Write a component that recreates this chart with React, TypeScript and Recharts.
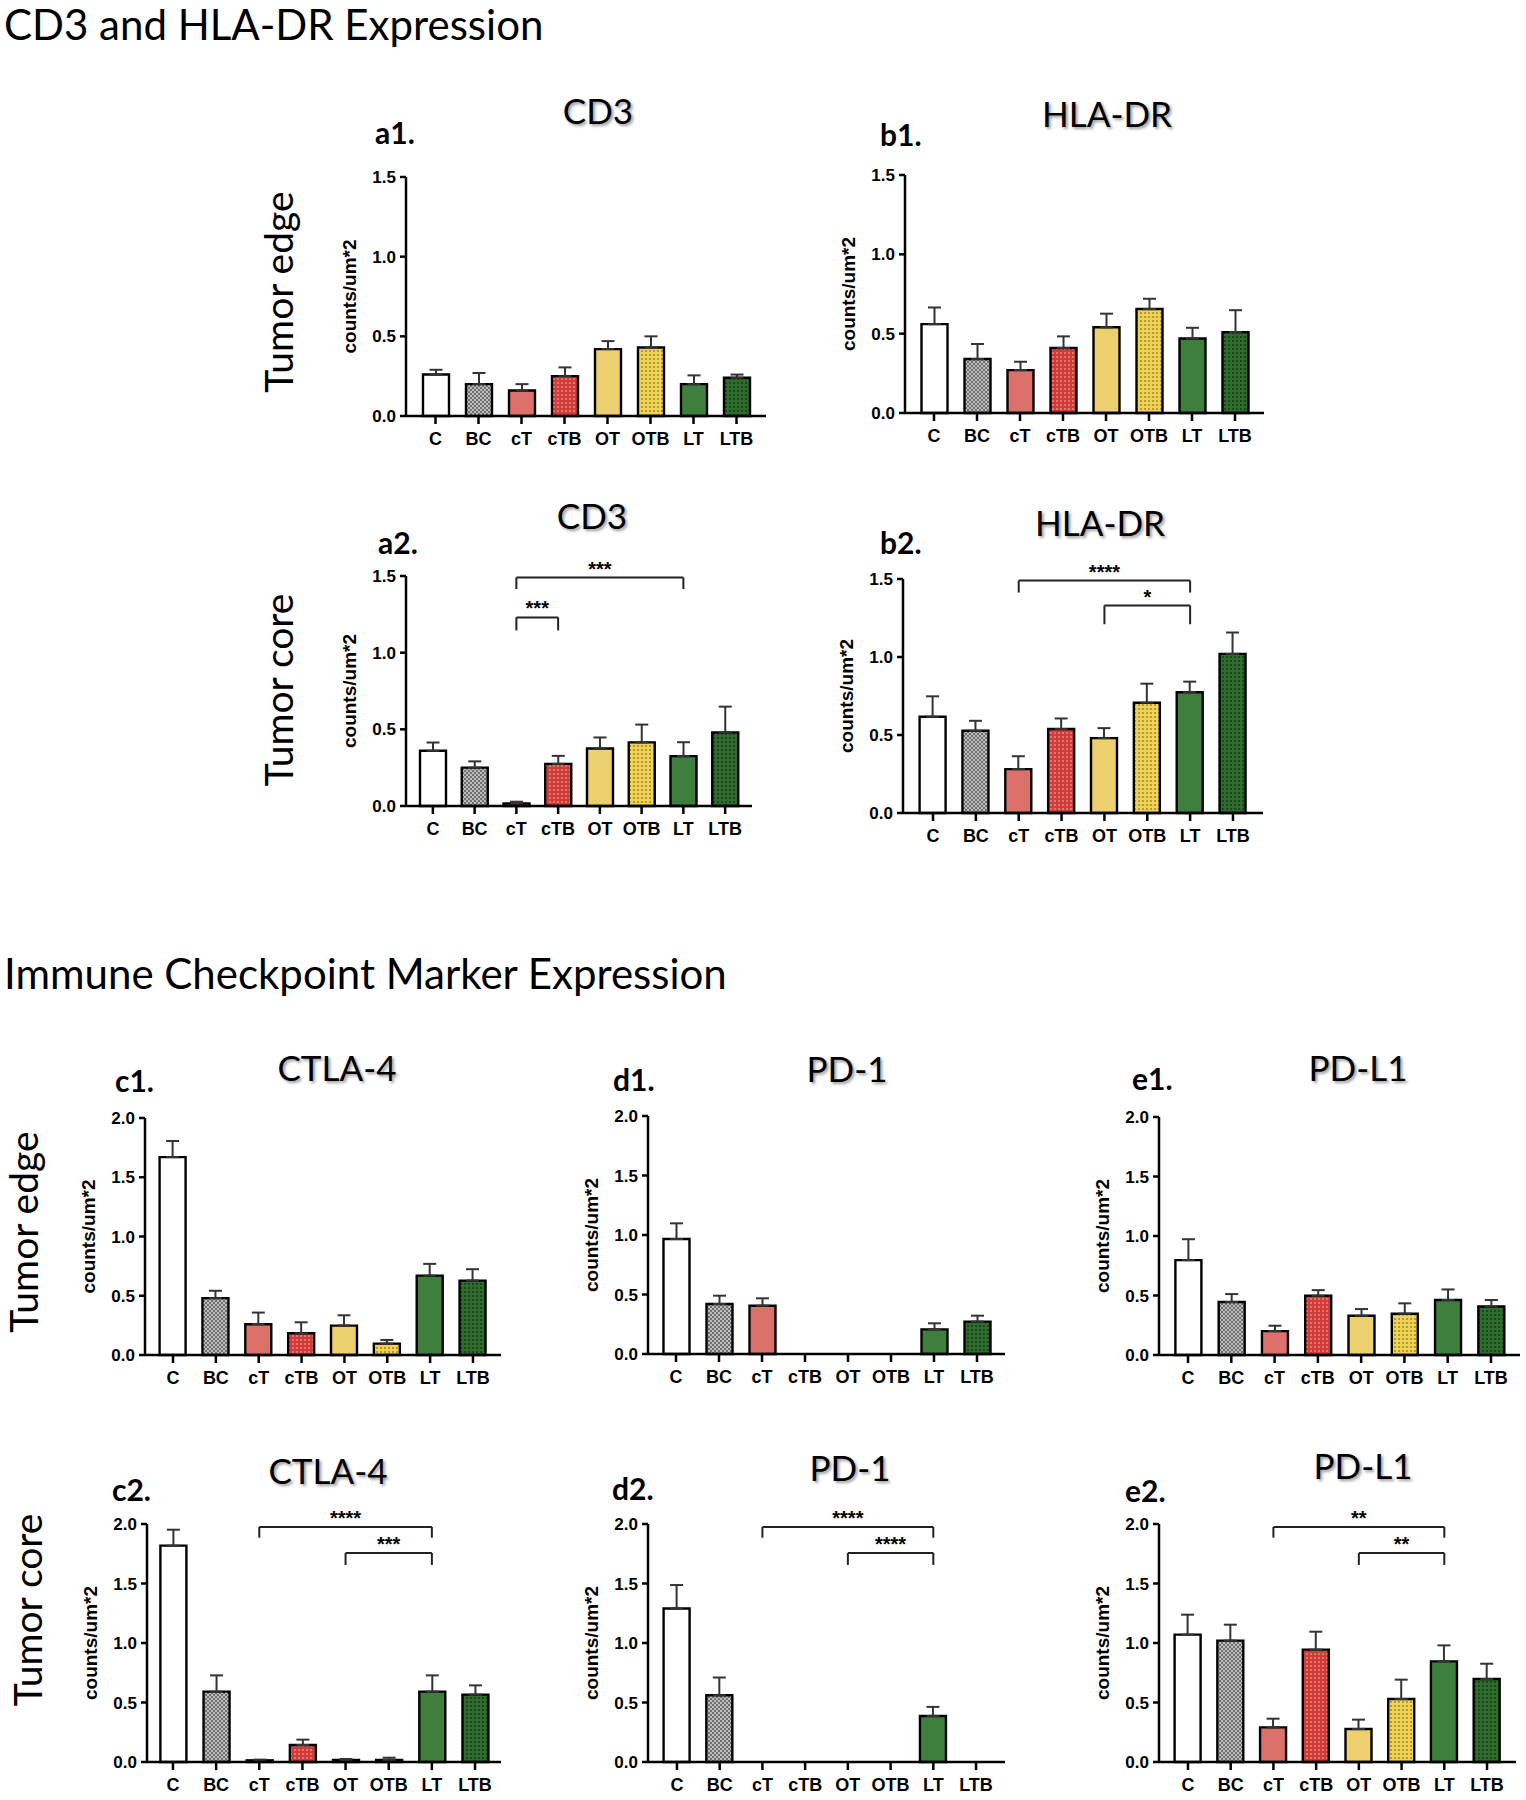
import React from 'react'
import { BarChart, Bar, XAxis, YAxis, Cell, ErrorBar, ReferenceLine } from 'recharts'

const categories = ['C', 'BC', 'cT', 'cTB', 'OT', 'OTB', 'LT', 'LTB']
const ticks15 = [0, 0.5, 1.0, 1.5]
const ticks20 = [0, 0.5, 1.0, 1.5, 2.0]

// CD3 / HLA-DR, tumor edge and core (mean, SEM)
const cd3EdgeMean = [0.26, 0.2, 0.16, 0.25, 0.42, 0.43, 0.2, 0.24]
const cd3EdgeSem = [0.03, 0.07, 0.04, 0.055, 0.05, 0.07, 0.055, 0.02]
const hlaEdgeMean = [0.56, 0.34, 0.27, 0.41, 0.54, 0.655, 0.47, 0.51]
const hlaEdgeSem = [0.105, 0.095, 0.053, 0.073, 0.086, 0.065, 0.067, 0.138]
const cd3CoreMean = [0.36, 0.25, 0.017, 0.275, 0.375, 0.415, 0.325, 0.48]
const cd3CoreSem = [0.054, 0.041, 0.011, 0.052, 0.072, 0.116, 0.091, 0.168]
const hlaCoreMean = [0.617, 0.527, 0.281, 0.538, 0.48, 0.707, 0.774, 1.02]
const hlaCoreSem = [0.131, 0.064, 0.083, 0.068, 0.064, 0.122, 0.068, 0.137]

// checkpoint markers
const ctlaEdgeMean = [1.67, 0.48, 0.26, 0.183, 0.248, 0.096, 0.67, 0.628]
const ctlaEdgeSem = [0.136, 0.062, 0.098, 0.093, 0.087, 0.031, 0.099, 0.096]
const pd1EdgeMean = [0.966, 0.42, 0.406, 0, 0, 0, 0.207, 0.272]
const pd1EdgeSem = [0.132, 0.07, 0.062, 0, 0, 0, 0.051, 0.05]
const pdl1EdgeMean = [0.797, 0.445, 0.201, 0.498, 0.33, 0.347, 0.462, 0.408]
const pdl1EdgeSem = [0.176, 0.067, 0.045, 0.047, 0.056, 0.087, 0.089, 0.054]
const ctlaCoreMean = [1.818, 0.591, 0.014, 0.143, 0.017, 0.017, 0.591, 0.566]
const ctlaCoreSem = [0.134, 0.137, 0.006, 0.045, 0.008, 0.019, 0.137, 0.078]
const pd1CoreMean = [1.29, 0.561, 0, 0, 0, 0, 0.387, 0]
const pd1CoreSem = [0.197, 0.149, 0, 0, 0, 0, 0.076, 0]
const pdl1CoreMean = [1.07, 1.02, 0.291, 0.944, 0.277, 0.529, 0.846, 0.697]
const pdl1CoreSem = [0.168, 0.134, 0.073, 0.151, 0.079, 0.163, 0.134, 0.129]

type Sig = { from: string; to: string; y: number; drop: number; stars: string }

const cd3CoreSig: Sig[] = [
    { from: 'cT', to: 'LT', y: 1.49, drop: 0.075, stars: '***' },
    { from: 'cT', to: 'cTB', y: 1.23, drop: 0.085, stars: '***' },
]
const hlaCoreSig: Sig[] = [
    { from: 'cT', to: 'LT', y: 1.49, drop: 0.077, stars: '****' },
    { from: 'OT', to: 'LT', y: 1.33, drop: 0.12, stars: '*' },
]
const ctlaCoreSig: Sig[] = [
    { from: 'cT', to: 'LT', y: 1.975, drop: 0.09, stars: '****' },
    { from: 'OT', to: 'LT', y: 1.756, drop: 0.1, stars: '***' },
]
const pd1CoreSig: Sig[] = [
    { from: 'cT', to: 'LT', y: 1.975, drop: 0.09, stars: '****' },
    { from: 'OT', to: 'LT', y: 1.756, drop: 0.1, stars: '****' },
]
const pdl1CoreSig: Sig[] = [
    { from: 'cT', to: 'LT', y: 1.975, drop: 0.09, stars: '**' },
    { from: 'OT', to: 'LT', y: 1.756, drop: 0.1, stars: '**' },
]

const fills: Record<string, string> = {
    C: '#ffffff',
    BC: 'url(#pBC)',
    cT: '#dc716b',
    cTB: 'url(#pCTB)',
    OT: '#ecd06e',
    OTB: 'url(#pOTB)',
    LT: '#3e7f3e',
    LTB: 'url(#pLTB)',
}

const ARIAL = '"Liberation Sans", Arial, sans-serif'
const YW = 70
const TOP = 36
const RIGHT = 12
const XH = 50

type PanelProps = {
    x: number; y: number; w: number; h: number; pad: number
    ymax: number; ticks: number[]; mean: number[]; sem: number[]; sig?: Sig[]
}

function Panel({ x, y, w, h, pad, ymax, ticks, mean, sem, sig = [] }: PanelProps) {
    const data = categories.map((c, i) => ({ name: c, mean: mean[i], err: [0, sem[i]] }))
    return (
        <div style={{ position: 'absolute', left: x - YW, top: y - TOP }}>
            <BarChart width={YW + w + RIGHT} height={TOP + h + XH} data={data}
                margin={{ top: TOP, right: RIGHT, bottom: 0, left: 0 }}>
                <XAxis dataKey="name" interval={0} padding={{ left: pad, right: pad }} height={XH}
                    tickSize={8} tickMargin={8} stroke="#000" strokeWidth={2.5}
                    tick={{ fill: '#000', fontSize: 18, fontWeight: 700, fontFamily: ARIAL }} />
                <YAxis type="number" domain={[0, ymax]} ticks={ticks} interval={0} width={YW}
                    tickSize={6} tickMargin={4} stroke="#000" strokeWidth={2.5}
                    tickFormatter={(v: number) => v.toFixed(1)}
                    tick={{ fill: '#000', fontSize: 17, fontWeight: 700, fontFamily: ARIAL }}
                    label={{
                        value: 'counts/um*2', angle: -90, position: 'insideLeft', offset: 13,
                        fill: '#000', fontSize: 19, fontWeight: 700, fontFamily: ARIAL,
                        style: { textAnchor: 'middle' },
                    }} />
                <Bar dataKey="mean" barSize={26} stroke="#000" strokeWidth={2.4} isAnimationActive={false}>
                    {categories.map((c) => <Cell key={c} fill={fills[c]} />)}
                    <ErrorBar dataKey="err" direction="y" width={6.5} stroke="#333" strokeWidth={2} />
                </Bar>
                {sig.flatMap((s, i) => [
                    <ReferenceLine key={`h${i}`} segment={[{ x: s.from, y: s.y }, { x: s.to, y: s.y }]}
                        stroke="#222" strokeWidth={2}
                        label={{ value: s.stars, position: 'top', offset: 2, fill: '#000', fontSize: 20, fontWeight: 700, fontFamily: ARIAL }} />,
                    <ReferenceLine key={`l${i}`} segment={[{ x: s.from, y: s.y }, { x: s.from, y: s.y - s.drop }]}
                        stroke="#222" strokeWidth={2} />,
                    <ReferenceLine key={`r${i}`} segment={[{ x: s.to, y: s.y }, { x: s.to, y: s.y - s.drop }]}
                        stroke="#222" strokeWidth={2} />,
                ])}
            </BarChart>
        </div>
    )
}

const LATO = 'Lato, "Open Sans", sans-serif'

function Title({ text, x, y }: { text: string; x: number; y: number }) {
    return (
        <div style={{
            position: 'absolute', left: x, top: y, transform: 'translate(-50%, -50%)',
            fontFamily: LATO, fontSize: 35, lineHeight: 1, whiteSpace: 'nowrap', color: '#000',
            textShadow: '2px 2px 3px rgba(0,0,0,0.4)',
        }}>{text}</div>
    )
}

function Letter({ text, x, y }: { text: string; x: number; y: number }) {
    return (
        <div style={{
            position: 'absolute', left: x, top: y, transform: 'translateY(-50%)',
            fontFamily: LATO, fontSize: 30, fontWeight: 700, lineHeight: 1, color: '#000',
        }}>{text}</div>
    )
}

function RowLabel({ text, x, y }: { text: string; x: number; y: number }) {
    return (
        <div style={{
            position: 'absolute', left: x, top: y, transform: 'translate(-50%, -50%) rotate(-90deg)',
            fontFamily: LATO, fontSize: 39, lineHeight: 1, whiteSpace: 'nowrap', color: '#000',
        }}>{text}</div>
    )
}

function Section({ text, y }: { text: string; y: number }) {
    return (
        <div style={{
            position: 'absolute', left: 4, top: y, fontFamily: LATO, fontSize: 42,
            lineHeight: 1, whiteSpace: 'nowrap', color: '#000',
        }}>{text}</div>
    )
}

export default function App() {
    return (
        <div style={{ position: 'absolute', left: 0, top: 0, width: 1526, height: 1800, background: '#fff', overflow: 'hidden' }}>
            <svg width="0" height="0" style={{ position: 'absolute' }}>
                <defs>
                    <pattern id="pBC" width="4" height="4" patternUnits="userSpaceOnUse">
                        <rect width="4" height="4" fill="#707070" />
                        <rect width="2" height="2" fill="#bdbdbd" />
                        <rect x="2" y="2" width="2" height="2" fill="#bdbdbd" />
                    </pattern>
                    <pattern id="pCTB" width="4" height="4" patternUnits="userSpaceOnUse">
                        <rect width="4" height="4" fill="#cf3c3a" />
                        <circle cx="2" cy="2" r="1.1" fill="#ec8078" />
                    </pattern>
                    <pattern id="pOTB" width="4" height="4" patternUnits="userSpaceOnUse">
                        <rect width="4" height="4" fill="#f0d458" />
                        <circle cx="2" cy="2" r="1.1" fill="#a88a28" />
                    </pattern>
                    <pattern id="pLTB" width="4" height="4" patternUnits="userSpaceOnUse">
                        <rect width="4" height="4" fill="#2f6d2f" />
                        <circle cx="2" cy="2" r="1.1" fill="#173e17" />
                    </pattern>
                </defs>
            </svg>

            <Section text="CD3 and HLA-DR Expression" y={3} />
            <Section text="Immune Checkpoint Marker Expression" y={952} />

            <RowLabel text="Tumor edge" x={278} y={292} />
            <RowLabel text="Tumor core" x={278} y={690} />
            <RowLabel text="Tumor edge" x={23} y={1232} />
            <RowLabel text="Tumor core" x={27} y={1610} />

            <Title text="CD3" x={598} y={110} />
            <Title text="HLA-DR" x={1107} y={113} />
            <Title text="CD3" x={592} y={515} />
            <Title text="HLA-DR" x={1100} y={522} />
            <Title text="CTLA-4" x={337} y={1067} />
            <Title text="PD-1" x={847} y={1068} />
            <Title text="PD-L1" x={1358} y={1067} />
            <Title text="CTLA-4" x={328} y={1470} />
            <Title text="PD-1" x={850} y={1467} />
            <Title text="PD-L1" x={1363} y={1465} />

            <Letter text="a1." x={375} y={132} />
            <Letter text="b1." x={880} y={134} />
            <Letter text="a2." x={378} y={542} />
            <Letter text="b2." x={880} y={542} />
            <Letter text="c1." x={115} y={1080} />
            <Letter text="d1." x={613} y={1079} />
            <Letter text="e1." x={1132} y={1078} />
            <Letter text="c2." x={112} y={1489} />
            <Letter text="d2." x={612} y={1488} />
            <Letter text="e2." x={1125} y={1490} />

            <Panel x={406} y={177} w={360} h={239} pad={8} ymax={1.5} ticks={ticks15} mean={cd3EdgeMean} sem={cd3EdgeSem} />
            <Panel x={905} y={175} w={359} h={238} pad={7.5} ymax={1.5} ticks={ticks15} mean={hlaEdgeMean} sem={hlaEdgeSem} />
            <Panel x={406} y={576} w={346} h={230} pad={6} ymax={1.5} ticks={ticks15} mean={cd3CoreMean} sem={cd3CoreSem} sig={cd3CoreSig} />
            <Panel x={903} y={579} w={360} h={234} pad={8.6} ymax={1.5} ticks={ticks15} mean={hlaCoreMean} sem={hlaCoreSem} sig={hlaCoreSig} />

            <Panel x={145} y={1118} w={356} h={237} pad={6.6} ymax={2} ticks={ticks20} mean={ctlaEdgeMean} sem={ctlaEdgeSem} />
            <Panel x={648} y={1116} w={357} h={238} pad={6.5} ymax={2} ticks={ticks20} mean={pd1EdgeMean} sem={pd1EdgeSem} />
            <Panel x={1159} y={1117} w={361} h={238} pad={7.4} ymax={2} ticks={ticks20} mean={pdl1EdgeMean} sem={pdl1EdgeSem} />
            <Panel x={147} y={1524} w={354} h={238} pad={4.4} ymax={2} ticks={ticks20} mean={ctlaCoreMean} sem={ctlaCoreSem} sig={ctlaCoreSig} />
            <Panel x={648} y={1524} w={357} h={238} pad={7.6} ymax={2} ticks={ticks20} mean={pd1CoreMean} sem={pd1CoreSem} sig={pd1CoreSig} />
            <Panel x={1159} y={1524} w={357} h={238} pad={7.6} ymax={2} ticks={ticks20} mean={pdl1CoreMean} sem={pdl1CoreSem} sig={pdl1CoreSig} />
        </div>
    )
}
